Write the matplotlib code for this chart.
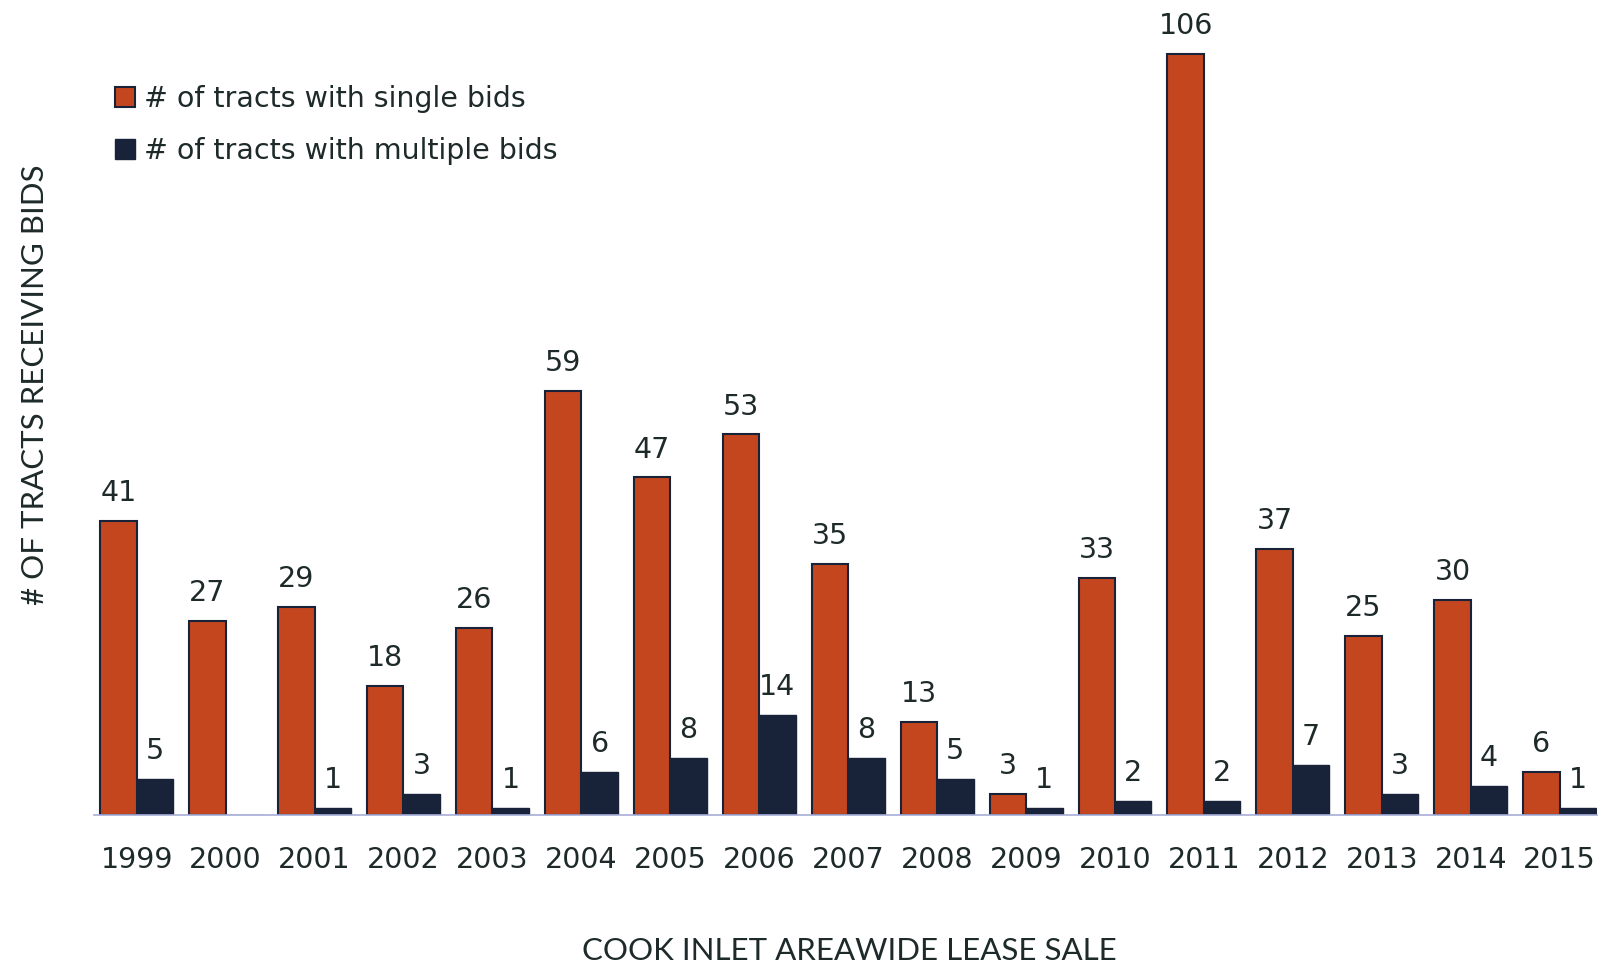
import matplotlib
matplotlib.use("Agg")
import matplotlib.pyplot as plt
import numpy as np

years = ["1999", "2000", "2001", "2002", "2003", "2004", "2005", "2006", "2007",
         "2008", "2009", "2010", "2011", "2012", "2013", "2014", "2015"]
single_bids = [41, 27, 29, 18, 26, 59, 47, 53, 35, 13, 3, 33, 106, 37, 25, 30, 6]
multiple_bids = [5, 0, 1, 3, 1, 6, 8, 14, 8, 5, 1, 2, 2, 7, 3, 4, 1]

ORANGE = "#C4461F"
NAVY = "#18233A"
TEXT = "#1E2A2A"

plt.rcParams['font.family'] = ['DejaVu Sans']

fig = plt.figure(figsize=(16.03, 9.68), dpi=100)
ax = fig.add_axes([0.0586, 0.158, 0.9377, 0.831])

x = np.arange(len(years))
w = 0.41
b1 = ax.bar(x - w / 2, single_bids, w, color=ORANGE, edgecolor=NAVY, linewidth=1.5,
            label="# of tracts with single bids")
b2 = ax.bar(x + w / 2, multiple_bids, w, color=NAVY, edgecolor=NAVY, linewidth=1.0,
            label="# of tracts with multiple bids")

for rect, v in zip(b1, single_bids):
    ax.annotate(str(v), (rect.get_x() + rect.get_width() / 2, v), xytext=(0, 10),
                textcoords="offset points", ha="center", va="bottom",
                fontsize=20.5, color=TEXT)
for rect, v in zip(b2, multiple_bids):
    if v == 0:
        continue
    ax.annotate(str(v), (rect.get_x() + rect.get_width() / 2, v), xytext=(0, 10),
                textcoords="offset points", ha="center", va="bottom",
                fontsize=20.5, color=TEXT)

ax.set_xlim(-0.48, len(years) - 1 + 0.42)
ax.set_ylim(0, 112)
ax.set_xticks(x)
ax.set_xticklabels(years, fontsize=20.5, color=TEXT)
ax.tick_params(axis="x", length=0, pad=22)
ax.set_yticks([])
for s in ["top", "right", "left"]:
    ax.spines[s].set_visible(False)
ax.spines["bottom"].set_color("#A8AED8")
ax.spines["bottom"].set_linewidth(1.2)

fig.text(0.530, 0.003, "COOK INLET AREAWIDE LEASE SALE", ha="center", va="bottom",
         fontsize=22.5, color=TEXT, family="Lato")
fig.text(0.022, 0.603, "# OF TRACTS RECEIVING BIDS", ha="center", va="center",
         rotation=90, fontsize=22.5, color=TEXT, family="Lato")

leg = ax.legend(loc="upper left", bbox_to_anchor=(-0.003, 0.94), frameon=False,
                fontsize=20.5, handlelength=0.7, handleheight=0.7, handletextpad=0.3,
                labelspacing=0.85, labelcolor=TEXT)

fig.savefig("out.png", dpi=100)
